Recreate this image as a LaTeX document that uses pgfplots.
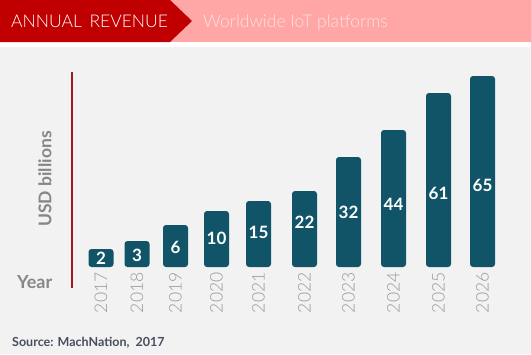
\documentclass[border=0pt]{standalone}
\usepackage{pgfplots}
\pgfplotsset{compat=1.18}
\usepackage{fontspec}
\setmainfont{Lato}
\newfontfamily\lightfont{Lato Light}
\definecolor{bgray}{HTML}{F2F2F2}
\definecolor{hred}{HTML}{C00000}
\definecolor{hpink}{HTML}{FFA7A7}
\definecolor{htxt}{HTML}{FFE0E0}
\definecolor{barc}{HTML}{115468}
\definecolor{lred}{HTML}{9E1B1B}
\definecolor{tgray}{HTML}{9A9A9A}
\definecolor{agray}{HTML}{878787}
\definecolor{srcc}{HTML}{474E5E}
\pgfplotstableread{
x h
101 18
137 26
175.5 42
216.5 56
258.5 66
304.5 76
348.5 110
393.5 137
438.5 174
482.5 191
}\bars
\pgfplotstableread{
x y lab
101 9 2
137 12 3
175.5 20 6
216.5 29 10
258.5 35 15
304.5 45 22
348.5 55 32
393.5 63 44
438.5 74 61
482.5 82 65
}\labs
\begin{document}
\begin{tikzpicture}[x=1bp,y=1bp]
\useasboundingbox (0,0) rectangle (531,354);
\fill[white] (0,0) rectangle (531,354);
\fill[bgray] (0,0) rectangle (531,307);
\fill[hpink] (0,312) rectangle (531,354);
\fill[hred] (0,312) -- (170,312) -- (192,333) -- (170,354) -- (0,354) -- cycle;
\node[anchor=base west, inner sep=0, text=white, font=\lightfont\fontsize{17.5bp}{20bp}\selectfont] at (11,327) {ANNUAL\ \,REVENUE};
\node[anchor=base west, inner sep=0, text=htxt, font=\lightfont\fontsize{17.5bp}{20bp}\selectfont] at (203,327) {Worldwide IoT platforms};
\draw[lred, line width=2.5bp] (72,282) -- (72,66);
\node[rotate=90, inner sep=0, text=agray, font=\fontsize{17.5bp}{20bp}\selectfont\bfseries] at (45,175) {USD billions};
\node[anchor=base west, inner sep=0, text=agray, font=\fontsize{18bp}{21bp}\selectfont\bfseries] at (17,66) {Year};
\node[anchor=base west, inner sep=0, text=srcc, font=\fontsize{12.5bp}{15bp}\selectfont\bfseries] at (12,8) {Source: MachNation,\ \ 2017};
\begin{axis}[
  at={(72,87)}, anchor=south west,
  scale only axis, width=438bp, height=200bp,
  xmin=72, xmax=510, ymin=0, ymax=200,
  clip=false,
  axis line style={draw=none},
  major tick length=0pt,
  ytick=\empty,
  xtick={101,137,175.5,216.5,258.5,304.5,348.5,393.5,438.5,482.5},
  xticklabels={2017,2018,2019,2020,2021,2022,2023,2024,2025,2026},
  xticklabel shift=2bp,
  /pgf/number format/assume math mode=true,
  x tick label style={rotate=90, anchor=east, text=tgray, font=\lightfont\fontsize{17.5bp}{20bp}\selectfont},
]
\addplot[ybar, bar width=25bp, fill=barc, draw=none, rounded corners=3bp] table[x=x,y=h] {\bars};
\addplot[draw=none, mark=none, nodes near coords, point meta=explicit symbolic,
  every node near coord/.append style={anchor=center, text=white, inner sep=0, font=\fontsize{17bp}{20bp}\selectfont\bfseries}]
  table[x=x,y=y,meta=lab] {\labs};
\end{axis}
\end{tikzpicture}
\end{document}
